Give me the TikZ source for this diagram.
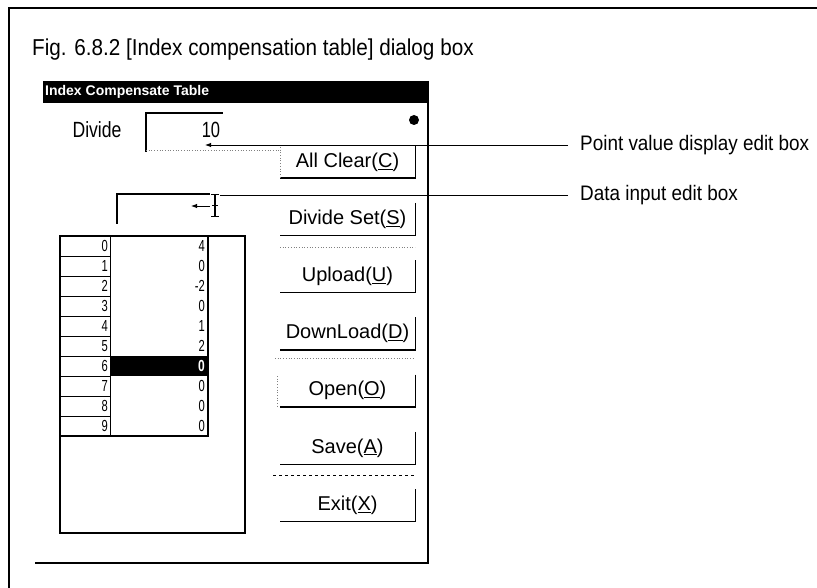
\documentclass[tikz,border=0pt]{standalone}
\usepackage{fontspec}
\setmainfont{Liberation Sans}
\usetikzlibrary{arrows.meta}
\newcommand{\narrowtext}[2]{\scalebox{#1}[1]{#2}}
\tikzset{
  dlg/.style={font=\fontsize{22}{22}\selectfont, inner sep=0pt},
  btn/.style={font=\fontsize{20}{20}\selectfont, inner sep=0pt, minimum width=135pt, minimum height=32pt},
  cell/.style={font=\fontsize{16}{16}\selectfont, inner sep=0pt, anchor=east},
  lbl/.style={font=\fontsize{21}{21}\selectfont, inner sep=0pt, anchor=west},
  shadowline/.style={line width=1.4pt},
  faint/.style={dotted, gray, line width=0.7pt},
  leader/.style={line width=0.9pt},
  tip/.style={-{Latex[length=6pt,width=4.5pt]}},
}
\begin{document}
\begin{tikzpicture}[x=1pt,y=-1pt]
\useasboundingbox (0,0) rectangle (817,588);
% outer frame
\draw[line width=1.1pt] (8,8) -- (817,8);
\draw[line width=1.1pt] (9,8) -- (9,588);
\node[anchor=west, inner sep=0pt, font=\fontsize{23}{23}\selectfont] (title) at (32,50) {\narrowtext{0.9}{Fig. 6.8.2 [Index compensation table] dialog box}};

% dialog
\fill (43,81) rectangle (428,103);
\node[anchor=west, inner sep=0pt, text=white, font=\fontsize{14}{14}\selectfont\bfseries] (bar) at (45,92) {Index Compensate Table};
\draw[line width=1.2pt] (428,81) -- (428,563) -- (35,563);
\fill (414,120) circle (5);

% divide edit box
\node[dlg] (divlbl) at (97,130) {\narrowtext{0.8}{Divide}};
\draw[line width=1.1pt] (146,152) -- (146,113) -- (223,113);
\node[dlg] (ten) at (211,130) {\narrowtext{0.75}{10}};
\draw[faint] (146,150) -- (280,150);

% data input edit box
\draw[line width=1.1pt] (117,224) -- (117,194) -- (210,194);

% buttons
\foreach \t [count=\i from 0] in {All Clear(\underline{C}),Divide Set(\underline{S}),Upload(\underline{U}),DownLoad(\underline{D}),Open(\underline{O}),Save(\underline{A}),Exit(\underline{X})}{
  \pgfmathsetmacro\yc{162+57.2*\i}
  \node[btn] (b\i) at (347.5,\yc) {\t};
  \draw[shadowline] (b\i.north east) -- (b\i.south east) -- (b\i.south west);
}
\draw[faint] (280,147) -- (280,178);
\draw[faint] (280,247) -- (415,247);
\draw[faint] (275,358) -- (415,358);
\draw[faint] (277,376) -- (277,406);
\draw[dashed, line width=0.9pt] (273,475) -- (415,475);

% list box
\draw[line width=1.1pt] (60,236) rectangle (245,533);
\fill (110,356) rectangle (208,376);
\foreach \v [count=\r from 0] in {4,0,-2,0,1,2,0,0,0,0}{
  \pgfmathsetmacro\yt{236+20*\r}
  \draw[line width=0.9pt] (60,\yt) rectangle (110,\yt+20);
  \node[cell] (ix\r) at (108,\yt+10) {\narrowtext{0.7}{\r}};
  \ifnum\r=6
    \node[cell, text=white, font=\fontsize{16}{16}\selectfont\bfseries] (vl\r) at (205,\yt+10) {\narrowtext{0.75}{\v}};
  \else
    \node[cell] (vl\r) at (205,\yt+10) {\narrowtext{0.7}{\v}};
  \fi
}
\draw[line width=1.1pt] (208,236) -- (208,436) -- (60,436);

% labels and leaders
\node[lbl] (pvl) at (580,145) {\narrowtext{0.9}{Point value display edit box}};
\node[lbl] (dil) at (580,195) {\narrowtext{0.9}{Data input edit box}};
\coordinate (pvEnd) at (568,145);
\coordinate (pvTip) at (205,145);
\coordinate (diEnd) at (568,195);
\coordinate (cursor) at (220,195);
\coordinate (diTip) at (191,206);
\coordinate (diTail) at (210,206);
\draw[leader] (diEnd) -- (cursor);
\draw[leader, tip] (pvEnd) -- (pvTip);
\draw[leader, tip] (diTail) -- (diTip);
% text cursor glyph
\draw[line width=1.6pt] (215,195) -- (215,217);
\draw[line width=1pt] (211,195) -- (219,195) (211,217) -- (219,217) (212,206) -- (218,206);
\end{tikzpicture}
\end{document}
